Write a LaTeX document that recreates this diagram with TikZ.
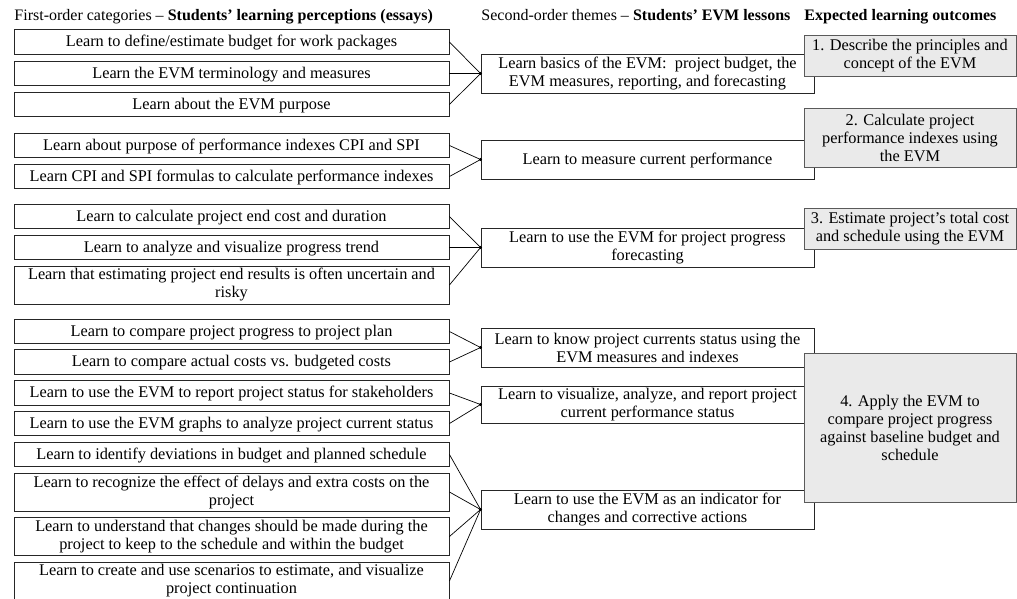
\documentclass[tikz,border=0pt]{standalone}
\usepackage{fontspec}
\setmainfont{Liberation Serif}
\usepackage{tikz}
\usepackage{xcolor}
\definecolor{outfill}{HTML}{EAEAEA}
\definecolor{outedge}{HTML}{5A5A5A}

\begin{document}
\begin{tikzpicture}[x=1pt, y=-1pt, line width=0.9pt,
    txt/.style={font=\fontsize{16.3}{18}\selectfont},
    head/.style={font=\fontsize{16}{18}\selectfont, inner sep=0pt, anchor=base west},
    cat/.style={txt, draw=black!85, minimum width=435pt, minimum height=24.5pt, align=center, inner sep=1pt},
    theme/.style={txt, draw=black!85, fill=white, minimum width=333pt, minimum height=39pt, align=center, inner sep=1pt},
    outcome/.style={txt, draw=outedge, fill=outfill, minimum width=212pt, align=center, inner sep=1pt},
    oneline/.style={text height=12pt, text depth=3pt},
    tall/.style={minimum height=38pt}]
    \useasboundingbox (0,0) rectangle (1017,598);
    \node[head] (headcat) at (14,20) {First-order categories -- \textbf{Students’ learning perceptions (essays)}};
    \node[head] (headtheme) at (481,20) {Second-order themes -- \textbf{Students’ EVM lessons}};
    \node[head] (headout) at (804,20) {\textbf{Expected learning outcomes}};
    \node[cat, oneline] (cat1) at (231.5,42) {Learn to define/estimate budget for work packages};
    \node[cat, oneline] (cat2) at (231.5,73.5) {Learn the EVM terminology and measures};
    \node[cat, oneline] (cat3) at (231.5,104.5) {Learn about the EVM purpose};
    \node[cat, oneline] (cat4) at (231.5,145.5) {Learn about purpose of performance indexes CPI and SPI};
    \node[cat, oneline] (cat5) at (231.5,176.5) {Learn CPI and SPI formulas to calculate performance indexes};
    \node[cat, oneline] (cat6) at (231.5,216.5) {Learn to calculate project end cost and duration};
    \node[cat, oneline] (cat7) at (231.5,247.5) {Learn to analyze and visualize progress trend};
    \node[cat, tall] (cat8) at (231.5,285) {Learn that estimating project end results is often uncertain and\\risky};
    \node[cat, oneline] (cat9) at (231.5,331.5) {Learn to compare project progress to project plan};
    \node[cat, oneline] (cat10) at (231.5,362) {Learn to compare actual costs vs. budgeted costs};
    \node[cat, oneline] (cat11) at (231.5,393) {Learn to use the EVM to report project status for stakeholders};
    \node[cat, oneline] (cat12) at (231.5,423.5) {Learn to use the EVM graphs to analyze project current status};
    \node[cat, oneline] (cat13) at (231.5,454.5) {Learn to identify deviations in budget and planned schedule};
    \node[cat, tall] (cat14) at (231.5,492) {Learn to recognize the effect of delays and extra costs on the\\project};
    \node[cat, tall] (cat15) at (231.5,536.5) {Learn to understand that changes should be made during the\\project to keep to the schedule and within the budget};
    \node[cat, tall] (cat16) at (231.5,581) {Learn to create and use scenarios to estimate, and visualize\\project continuation};
    \node[theme] (basics) at (647.5,73.5) {Learn basics of the EVM:\ \ project budget, the\\EVM measures, reporting, and forecasting};
    \node[theme, oneline] (measure) at (647.5,159.5) {Learn to measure current performance};
    \node[theme] (forecast) at (647.5,247.5) {Learn to use the EVM for project progress\\forecasting};
    \node[theme] (status) at (647.5,347.5) {Learn to know project currents status using the\\EVM measures and indexes};
    \node[theme, minimum height=37pt] (report) at (647.5,404.5) {Learn to visualize, analyze, and report project\\current performance status};
    \node[theme] (indicator) at (647.5,509.5) {Learn to use the EVM as an indicator for\\changes and corrective actions};
    \foreach \c in {cat1,cat2,cat3} \draw[line width=0.7pt] (\c.east) -- (basics.west);
    \foreach \c in {cat4,cat5} \draw[line width=0.7pt] (\c.east) -- (measure.west);
    \foreach \c in {cat6,cat7,cat8} \draw[line width=0.7pt] (\c.east) -- (forecast.west);
    \foreach \c in {cat9,cat10} \draw[line width=0.7pt] (\c.east) -- (status.west);
    \foreach \c in {cat11,cat12} \draw[line width=0.7pt] (\c.east) -- (report.west);
    \foreach \c in {cat13,cat14,cat15,cat16} \draw[line width=0.7pt] (\c.east) -- (indicator.west);
    \foreach \t in {basics,measure,forecast,status,report,indicator} \fill (\t.west) circle (1.6pt);
    \node[outcome, minimum height=41pt] (out1) at (910,55.5) {1. Describe the principles and\\concept of the EVM};
    \node[outcome, minimum height=59pt] (out2) at (910,137.5) {2. Calculate project\\performance indexes using\\the EVM};
    \node[outcome, minimum height=41pt] (out3) at (910,228.5) {3. Estimate project’s total cost\\and schedule using the EVM};
    \node[outcome, minimum height=149pt] (out4) at (910,427.5) {4. Apply the EVM to\\compare project progress\\against baseline budget and\\schedule};
\end{tikzpicture}
\end{document}
